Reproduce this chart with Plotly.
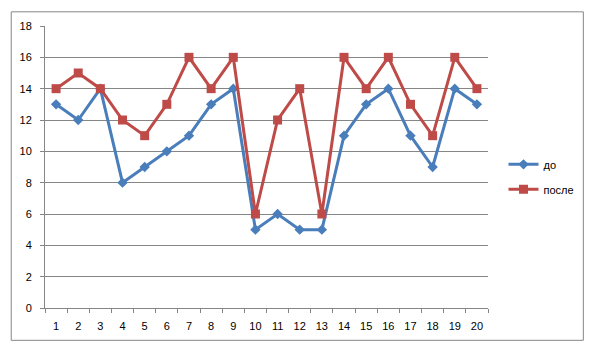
import plotly.graph_objects as go

categories = list(range(1, 21))
do_values = [13, 12, 14, 8, 9, 10, 11, 13, 14, 5, 6, 5, 5, 11, 13, 14, 11, 9, 14, 13]
posle_values = [14, 15, 14, 12, 11, 13, 16, 14, 16, 6, 12, 14, 6, 16, 14, 16, 13, 11, 16, 14]
y_ticks = list(range(0, 19, 2))

font = dict(family="Liberation Sans, Arial, sans-serif", size=11, color="#000000")

fig = go.Figure()
fig.add_trace(go.Scatter(
    x=categories, y=do_values, name="до", mode="lines+markers",
    line=dict(color="#4A7EBB", width=3),
    marker=dict(symbol="diamond", size=8, color="#4A7EBB"),
    legendgroup="a",
))
fig.add_trace(go.Scatter(
    x=categories, y=posle_values, name="после", mode="lines+markers",
    line=dict(color="#BE4B48", width=3),
    marker=dict(symbol="square", size=9, color="#BE4B48"),
    legendgroup="b",
))

fig.update_layout(
    width=588, height=349,
    margin=dict(l=34, r=108, t=12, b=49),
    paper_bgcolor="white", plot_bgcolor="white",
    font=font,
    showlegend=True,
    legend=dict(x=1.035, y=0.465, xanchor="left", yanchor="middle",
                bgcolor="rgba(0,0,0,0)", font=dict(size=11),
                tracegroupgap=6, traceorder="grouped", itemwidth=30),
    xaxis=dict(
        range=[0.5, 20.5], tickmode="array", tickvals=categories,
        ticktext=[str(c) for c in categories], ticks="", showgrid=False,
        showline=True, linecolor="#868686", linewidth=1, zeroline=False,
        ticklabelstandoff=8,
        minor=dict(tickmode="array", tickvals=[c + 0.5 for c in [0] + categories],
                   ticks="outside", ticklen=4, tickcolor="#868686", showgrid=False),
    ),
    yaxis=dict(
        range=[0, 18], tickmode="array", tickvals=y_ticks,
        showgrid=True, gridcolor="#868686", gridwidth=1,
        showline=True, linecolor="#868686", linewidth=1,
        ticks="outside", ticklen=4, tickcolor="#868686", zeroline=False,
        ticklabelstandoff=6,
    ),
    shapes=[dict(type="rect", xref="paper", yref="paper",
                 x0=-0.0762, x1=1.2152, y0=-0.1146, y1=1.0503,
                 line=dict(color="#868686", width=1), fillcolor="rgba(0,0,0,0)",
                 layer="below")],
)

fig.write_html("out.html")
